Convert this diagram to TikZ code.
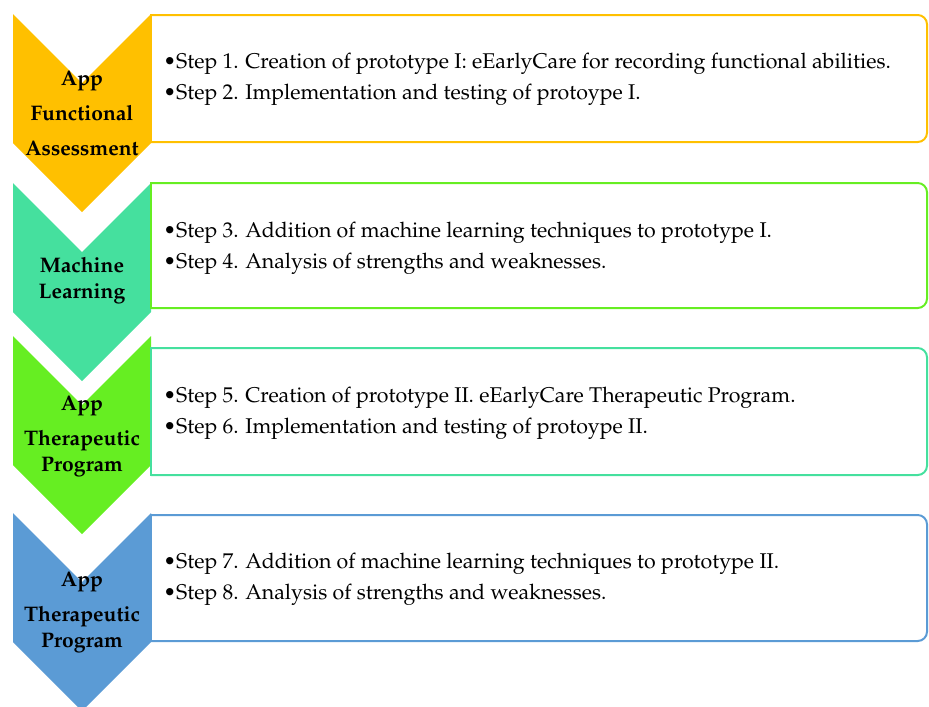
\documentclass[tikz,border=0pt]{standalone}
\usepackage[T1]{fontenc}
\usepackage{mathpazo}
\usepackage{xcolor}
\usepackage{tikz}
\usetikzlibrary{positioning}
\definecolor{goldColor}{RGB}{255,192,0}
\definecolor{tealColor}{RGB}{69,224,158}
\definecolor{limeColor}{RGB}{102,238,34}
\definecolor{blueColor}{RGB}{91,155,213}
\tikzset{
    stepbox/.style={
        draw=#1,
        line width=1.5pt,
        rounded corners=7pt
    },
    boxedge/.style={
        draw=#1,
        line width=1.5pt,
        line cap=rect
    },
    phaselabel/.style={
        font=\fontsize{15.8}{19.5}\selectfont\bfseries,
        align=center
    },
    steptext/.style={
        font=\fontsize{16}{23.25}\selectfont,
        align=left,
        anchor=west,
        inner sep=0pt
    }
}

\begin{document}
\begin{tikzpicture}[x=0.75pt, y=-0.75pt]
    \useasboundingbox (0,0) rectangle (929,707);

    % chevrons
    \fill[goldColor] (13,14) -- (82,83) -- (151,14) -- (151,143) -- (82,212) -- (13,143) -- cycle;
    \fill[tealColor] (13,183) -- (82,252) -- (151,183) -- (151,312) -- (82,381) -- (13,312) -- cycle;
    \fill[limeColor] (13,336) -- (82,405) -- (151,336) -- (151,465) -- (82,534) -- (13,465) -- cycle;
    \fill[blueColor] (13,513) -- (82,582) -- (151,513) -- (151,642) -- (82,711) -- (13,642) -- cycle;

    % boxes
    \draw[stepbox=goldColor] (151,15) -- (927,15) -- (927,142) -- (151,142);
    \draw[boxedge=goldColor] (151,15) -- (151,142);
    \draw[stepbox=limeColor] (151,183) -- (927,183) -- (927,308) -- (151,308);
    \draw[boxedge=limeColor] (151,183) -- (151,308);
    \draw[stepbox=tealColor] (151,348) -- (927,348) -- (927,475) -- (151,475);
    \draw[boxedge=tealColor] (151,348) -- (151,475);
    \draw[stepbox=blueColor] (151,515) -- (927,515) -- (927,641) -- (151,641);
    \draw[boxedge=blueColor] (151,515) -- (151,641);

    \node[phaselabel] (lblA) at (82,113) {App\\[6.75pt] Functional\\[6.75pt] Assessment};
    \node[phaselabel] (lblB) at (82,281) {Machine\\ Learning};
    \node[phaselabel] (lblC) at (82,436) {App\\[6.75pt] Therapeutic\\ Program};
    \node[phaselabel] (lblD) at (82,612) {App\\[6.75pt] Therapeutic\\ Program};

    \node[steptext] (stepsA) at (163,79.5) {\textbullet Step 1. Creation of prototype I: eEarlyCare for recording functional abilities.\\ \textbullet Step 2. Implementation and testing of protoype I.};
    \node[steptext] (stepsB) at (163,248) {\textbullet Step 3. Addition of machine learning techniques to prototype I.\\ \textbullet Step 4. Analysis of strengths and weaknesses.};
    \node[steptext] (stepsC) at (163,413.5) {\textbullet Step 5. Creation of prototype II. eEarlyCare Therapeutic Program.\\ \textbullet Step 6. Implementation and testing of protoype II.};
    \node[steptext] (stepsD) at (163,579.5) {\textbullet Step 7. Addition of machine learning techniques to prototype II.\\ \textbullet Step 8. Analysis of strengths and weaknesses.};
\end{tikzpicture}
\end{document}
